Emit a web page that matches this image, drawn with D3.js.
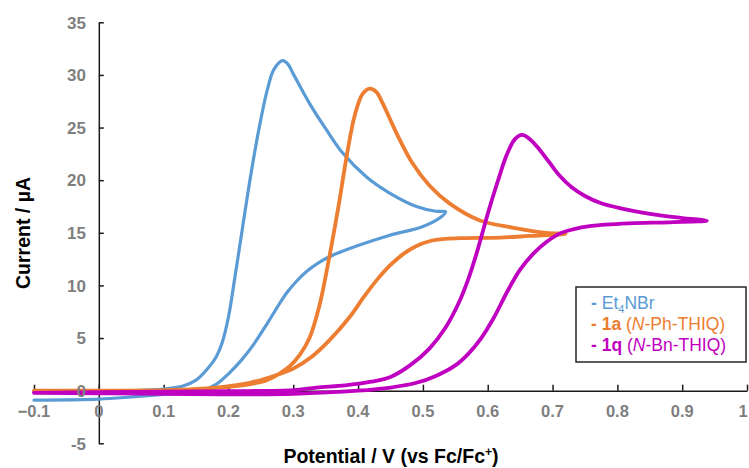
<!DOCTYPE html>
<html>
<head>
<meta charset="utf-8">
<script src="https://cdn.jsdelivr.net/npm/d3@7"></script>
<style>
  body { margin: 0; background: #fff; }
  svg { font-family: 'Liberation Sans', Arial, sans-serif; }
</style>
</head>
<body>
<svg id="chart" width="749" height="468"></svg>
<script>
// potential (V vs Fc/Fc+), current (uA) - forward scan then return scan
const et4nbr = [
  [-0.1, -0.05], [0, -0.05], [0.05, 0.0], [0.1, 0.15], [0.13, 0.45], [0.15, 1.0], [0.168, 2.1],
  [0.181, 3.2], [0.19, 4.5], [0.2, 7.0], [0.21, 10.8], [0.22, 14.8], [0.23, 18.8], [0.24, 22.5],
  [0.25, 25.8], [0.26, 28.6], [0.27, 30.5], [0.2835, 31.35], [0.292, 31.0], [0.3, 30.1],
  [0.325, 27.3], [0.351, 24.8], [0.376, 22.6], [0.413, 20.3], [0.448, 18.8], [0.49, 17.5],
  [0.52, 17.05], [0.535, 17.0],
  [0.528, 16.5], [0.5, 15.6], [0.448, 14.75], [0.4, 13.8], [0.38, 13.35], [0.36, 12.85],
  [0.34, 12.2], [0.32, 11.3], [0.305, 10.4], [0.29, 9.3], [0.275, 7.9], [0.26, 6.4],
  [0.24, 4.5], [0.22, 2.9], [0.2, 1.6], [0.181, 0.6], [0.156, -0.05],
  [0.1, -0.35], [0.05, -0.6], [0, -0.8], [-0.1, -0.9]
];
const phThiq = [
  [-0.1, 0.0], [0, 0.0], [0.1, 0.05], [0.15, 0.15], [0.207, 0.4], [0.259, 1.0], [0.294, 2.3],
  [0.31, 3.4], [0.325, 5.0], [0.34, 8.0], [0.355, 12.5], [0.37, 17.6], [0.383, 22.5],
  [0.395, 26.2], [0.407, 28.2], [0.418, 28.7], [0.428, 28.4], [0.438, 27.3], [0.459, 24.5],
  [0.484, 21.6], [0.51, 19.5], [0.541, 17.8], [0.587, 16.2], [0.638, 15.5], [0.69, 15.0],
  [0.72, 14.9],
  [0.664, 14.7], [0.62, 14.55], [0.56, 14.5], [0.535, 14.42], [0.51, 14.2], [0.49, 13.75],
  [0.47, 13.0], [0.45, 11.95], [0.43, 10.6], [0.41, 9.0], [0.387, 7.0], [0.356, 4.8],
  [0.33, 3.3], [0.3, 2.1], [0.27, 1.4], [0.233, 0.75], [0.18, 0.3], [0.1, 0.05], [0, -0.05],
  [-0.1, -0.1]
];
const bnThiq = [
  [-0.1, -0.2], [0, -0.15], [0.1, -0.1], [0.2, -0.05], [0.3, 0.05], [0.336, 0.3], [0.38, 0.5],
  [0.42, 0.85], [0.45, 1.3], [0.48, 2.4], [0.51, 4.0], [0.535, 6.0], [0.555, 8.3], [0.57, 10.6],
  [0.585, 13.5], [0.6, 16.8], [0.615, 19.8], [0.63, 22.5], [0.642, 23.9], [0.653, 24.3],
  [0.665, 23.9], [0.68, 22.9], [0.695, 21.7], [0.71, 20.5], [0.73, 19.3], [0.75, 18.5],
  [0.775, 17.8], [0.807, 17.3], [0.85, 16.8], [0.9, 16.4], [0.938, 16.15],
  [0.88, 16.0], [0.818, 15.9], [0.76, 15.65], [0.73, 15.3], [0.71, 14.9], [0.69, 14.1],
  [0.67, 13.0], [0.65, 11.5], [0.63, 9.4], [0.61, 7.0], [0.59, 5.0], [0.57, 3.5], [0.55, 2.4],
  [0.52, 1.4], [0.49, 0.75], [0.45, 0.3], [0.4, 0.0], [0.3, -0.3], [0.2, -0.35], [0.1, -0.3],
  [0, -0.25], [-0.1, -0.2]
];

const xTicks = [-0.1, 0, 0.1, 0.2, 0.3, 0.4, 0.5, 0.6, 0.7, 0.8, 0.9, 1];
const yTicks = [-5, 0, 5, 10, 15, 20, 25, 30, 35];

const series = [
  { name: 'Et4NBr', data: et4nbr, color: '#5b9bd5', width: 3.2 },
  { name: '1a', data: phThiq, color: '#ed7d31', width: 3.8 },
  { name: '1q', data: bnThiq, color: '#c000c0', width: 3.8 }
];

const svg = d3.select('#chart');
const x = d3.scaleLinear().domain([-0.1, 1]).range([34, 747]);
const y = d3.scaleLinear().domain([-5, 35]).range([443.3, 22.3]);

// axis lines
const xAxis = d3.axisBottom(x).tickValues(xTicks).tickSizeInner(-6).tickSizeOuter(0).tickFormat('');
svg.append('g')
  .attr('transform', `translate(0,${y(0)})`)
  .call(xAxis)
  .call(g => g.selectAll('line, path').attr('stroke', '#1a1a1a').attr('stroke-width', 1.5));

const yAxis = d3.axisLeft(y).tickValues(yTicks).tickSizeInner(-5).tickSizeOuter(0).tickFormat('');
svg.append('g')
  .attr('transform', `translate(${x(0)},0)`)
  .call(yAxis)
  .call(g => g.selectAll('line, path').attr('stroke', '#1a1a1a').attr('stroke-width', 1.5));

// curves
const line = d3.line()
  .x(d => x(d[0]))
  .y(d => y(d[1]))
  .curve(d3.curveCatmullRom.alpha(0.5));

svg.append('g')
  .selectAll('path')
  .data(series)
  .join('path')
  .attr('d', d => line(d.data))
  .attr('fill', 'none')
  .attr('stroke', d => d.color)
  .attr('stroke-width', d => d.width)
  .attr('stroke-linejoin', 'round')
  .attr('stroke-linecap', 'round');

// tick labels
svg.append('g')
  .selectAll('text')
  .data(xTicks)
  .join('text')
  .attr('x', d => Math.min(x(d), 743))
  .attr('y', 417)
  .attr('text-anchor', 'middle')
  .attr('font-size', 16.5)
  .attr('font-weight', 'bold')
  .attr('fill', '#7f7f7f')
  .text(d => d3.format('')(d));

svg.append('g')
  .selectAll('text')
  .data(yTicks)
  .join('text')
  .attr('x', 86)
  .attr('y', d => y(d) + 6.3)
  .attr('text-anchor', 'end')
  .attr('font-size', 17)
  .attr('font-weight', 'bold')
  .attr('fill', '#7f7f7f')
  .text(d => d);

// axis titles
const xTitle = svg.append('text')
  .attr('x', 391)
  .attr('y', 463)
  .attr('text-anchor', 'middle')
  .attr('font-size', 19.5)
  .attr('font-weight', 'bold')
  .attr('fill', '#000');
xTitle.append('tspan').text('Potential / V (vs Fc/Fc');
xTitle.append('tspan').attr('font-size', 12).attr('dy', -7).text('+');
xTitle.append('tspan').attr('dy', 7).text(')');

svg.append('text')
  .attr('transform', 'translate(30,233) rotate(-90)')
  .attr('text-anchor', 'middle')
  .attr('font-size', 19.5)
  .attr('font-weight', 'bold')
  .attr('fill', '#000')
  .text('Current / µA');

// legend
const legend = svg.append('g');
legend.append('rect')
  .attr('x', 576).attr('y', 287)
  .attr('width', 170).attr('height', 75)
  .attr('fill', '#fff')
  .attr('stroke', '#262626')
  .attr('stroke-width', 1.5);

const l1 = legend.append('text').attr('x', 591).attr('y', 309)
  .attr('font-size', 17.5).attr('fill', series[0].color);
l1.append('tspan').attr('font-weight', 'bold').text('- ');
l1.append('tspan').text('Et');
l1.append('tspan').attr('font-size', 11).attr('dy', 4).text('4');
l1.append('tspan').attr('dy', -4).text('NBr');

[['1a', 'Ph', 330, series[1].color], ['1q', 'Bn', 351, series[2].color]].forEach(([id, grp, ty, c]) => {
  const t = legend.append('text').attr('x', 591).attr('y', ty)
    .attr('font-size', 17.5).attr('fill', c);
  t.append('tspan').attr('font-weight', 'bold').text(`- ${id}`);
  t.append('tspan').text(' (');
  t.append('tspan').attr('font-style', 'italic').text('N');
  t.append('tspan').text(`-${grp}-THIQ)`);
});
</script>
</body>
</html>
